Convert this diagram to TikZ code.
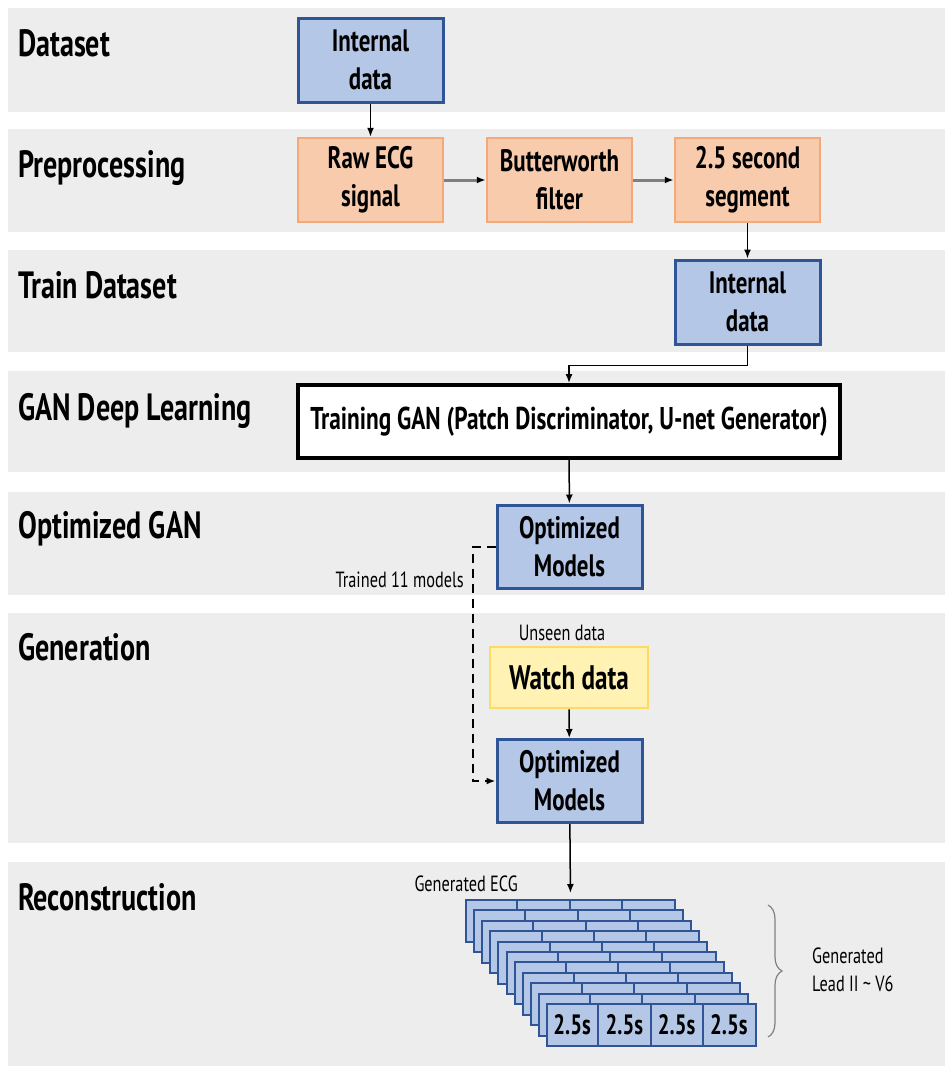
\documentclass[tikz,border=0pt]{standalone}
\usepackage{fontspec}
\setmainfont{PT Sans}[FakeStretch=0.74]
\usetikzlibrary{positioning,arrows.meta,decorations.pathreplacing}

\definecolor{bandgray}{HTML}{EDEDED}
\definecolor{boxblue}{HTML}{B4C7E7}
\definecolor{lineblue}{HTML}{2F5597}
\definecolor{boxorange}{HTML}{F8CBAD}
\definecolor{lineorange}{HTML}{F4A978}
\definecolor{boxyellow}{HTML}{FFF2B3}
\definecolor{lineyellow}{HTML}{FFD966}
\definecolor{shaftgray}{HTML}{7F7F7F}

\tikzset{
  band/.style={fill=bandgray,draw=none},
  title/.style={anchor=base west,inner sep=0pt,font=\fontsize{38}{40}\selectfont\bfseries},
  datab/.style={draw=lineblue,fill=boxblue,line width=3pt,minimum width=145pt,
    minimum height=84pt,align=center,inner sep=0pt,font=\fontsize{31}{38}\selectfont\bfseries},
  prepb/.style={datab,draw=lineorange,fill=boxorange,line width=2.5pt},
  trainb/.style={draw=black,fill=white,line width=4pt,minimum width=542pt,minimum height=73pt,
    inner sep=0pt,font=\fontsize{31.5}{34}\selectfont\bfseries},
  watchb/.style={draw=lineyellow,fill=boxyellow,line width=2.5pt,minimum width=158pt,
    minimum height=61pt,inner sep=0pt,font=\fontsize{34}{38}\selectfont\bfseries},
  note/.style={inner sep=0pt,font=\fontsize{22}{28}\selectfont},
  layer/.style={draw=lineblue,fill=boxblue,line width=2pt,minimum width=209pt,
    minimum height=42pt,anchor=north west,inner sep=0pt},
  flow/.style={->,line width=1.5pt},
  greyflow/.style={-{Latex[length=9pt,width=7pt,color=black]},draw=shaftgray,line width=3pt},
  dashline/.style={->,line width=2pt,dash pattern=on 9pt off 6pt},
}

\begin{document}
\begin{tikzpicture}[x=1pt,y=-1pt,>={Latex[length=9pt,width=7pt]},on grid,node distance=120pt]
\useasboundingbox (0,0) rectangle (945,1069);

% bands
\fill[band] (8,8) rectangle (945,112);
\fill[band] (8,129) rectangle (945,232);
\fill[band] (8,250) rectangle (945,352);
\fill[band] (8,371) rectangle (945,472);
\fill[band] (8,492) rectangle (945,595);
\fill[band] (8,613) rectangle (945,843);
\fill[band] (8,862) rectangle (945,1066);

% row titles
\node[title] (tdata)  at (18,56)  {Dataset};
\node[title] (tprep)  at (18,177) {Preprocessing};
\node[title] (ttrain) at (18,298) {Train Dataset};
\node[title] (tgan)   at (18,420) {GAN Deep Learning};
\node[title] (topt)   at (18,538) {Optimized GAN};
\node[title] (tgen)   at (18,660) {Generation};
\node[title] (trec)   at (18,910) {Reconstruction};

% boxes
\node[datab] (int1) at (370.5,60) {Internal\\data};
\node[prepb] (raw) [below=of int1] {Raw ECG\\signal};
\node[prepb] (butter) [right=189pt of raw] {Butterworth\\filter};
\node[prepb] (seg) [right=188pt of butter] {2.5 second\\segment};
\node[datab] (int2) [below=122pt of seg] {Internal\\data};
\node[trainb] (train) at (569,421.5) {Training GAN (Patch Discriminator, U-net Generator)};
\node[datab,minimum height=83pt] (opt1) at (569.5,546.5) {Optimized\\Models};
\node[watchb] (watch) at (569,677.5) {Watch data};
\node[datab,minimum height=83pt] (opt2) at (569.5,781) {Optimized\\Models};

% labels
\node[note,anchor=base east] (ltrained) at (464,587) {Trained 11 models};
\node[note,anchor=base] (lunseen) at (562,640) {Unseen data};
\node[note,anchor=base east] (lgen) at (518,891) {Generated ECG};

% stacked ECG leads
\foreach \i in {0,...,10}{
  \node[layer] (L\i) at (465+8.1*\i,899+10.4*\i) {};
  \foreach \k in {1,2,3}
    \draw[lineblue,line width=2pt] ([xshift=\k*52.25pt]L\i.north west) -- ([xshift=\k*52.25pt]L\i.south west);
}
\foreach \k in {0,...,3}
  \node[font=\fontsize{28}{30}\selectfont\bfseries] (s\k) at ([xshift=26.1pt+\k*52.25pt]L10.west) {2.5s};

\draw[decorate,decoration={brace,amplitude=14pt},gray,line width=1.2pt] (768,905) -- (768,1037);
\node[note,anchor=west,align=left] (lleads) at (812,970) {Generated\\Lead II \textasciitilde{} V6};

% connectors
\draw[flow] (int1) -- (raw);
\draw[greyflow] (raw) -- (butter);
\draw[greyflow] (butter) -- (seg);
\draw[flow] (seg) -- (int2);
\draw[flow] (int2.south) -- ++(0,20) -| (train.north);
\draw[flow] (train) -- (opt1);
\draw[flow] (watch) -- (opt2);
\draw[dashline] (opt1.west) -- ++(-23,0) |- (opt2.west);
\draw[flow,shorten >=6pt] (opt2) -- (L0.north);
\end{tikzpicture}
\end{document}
